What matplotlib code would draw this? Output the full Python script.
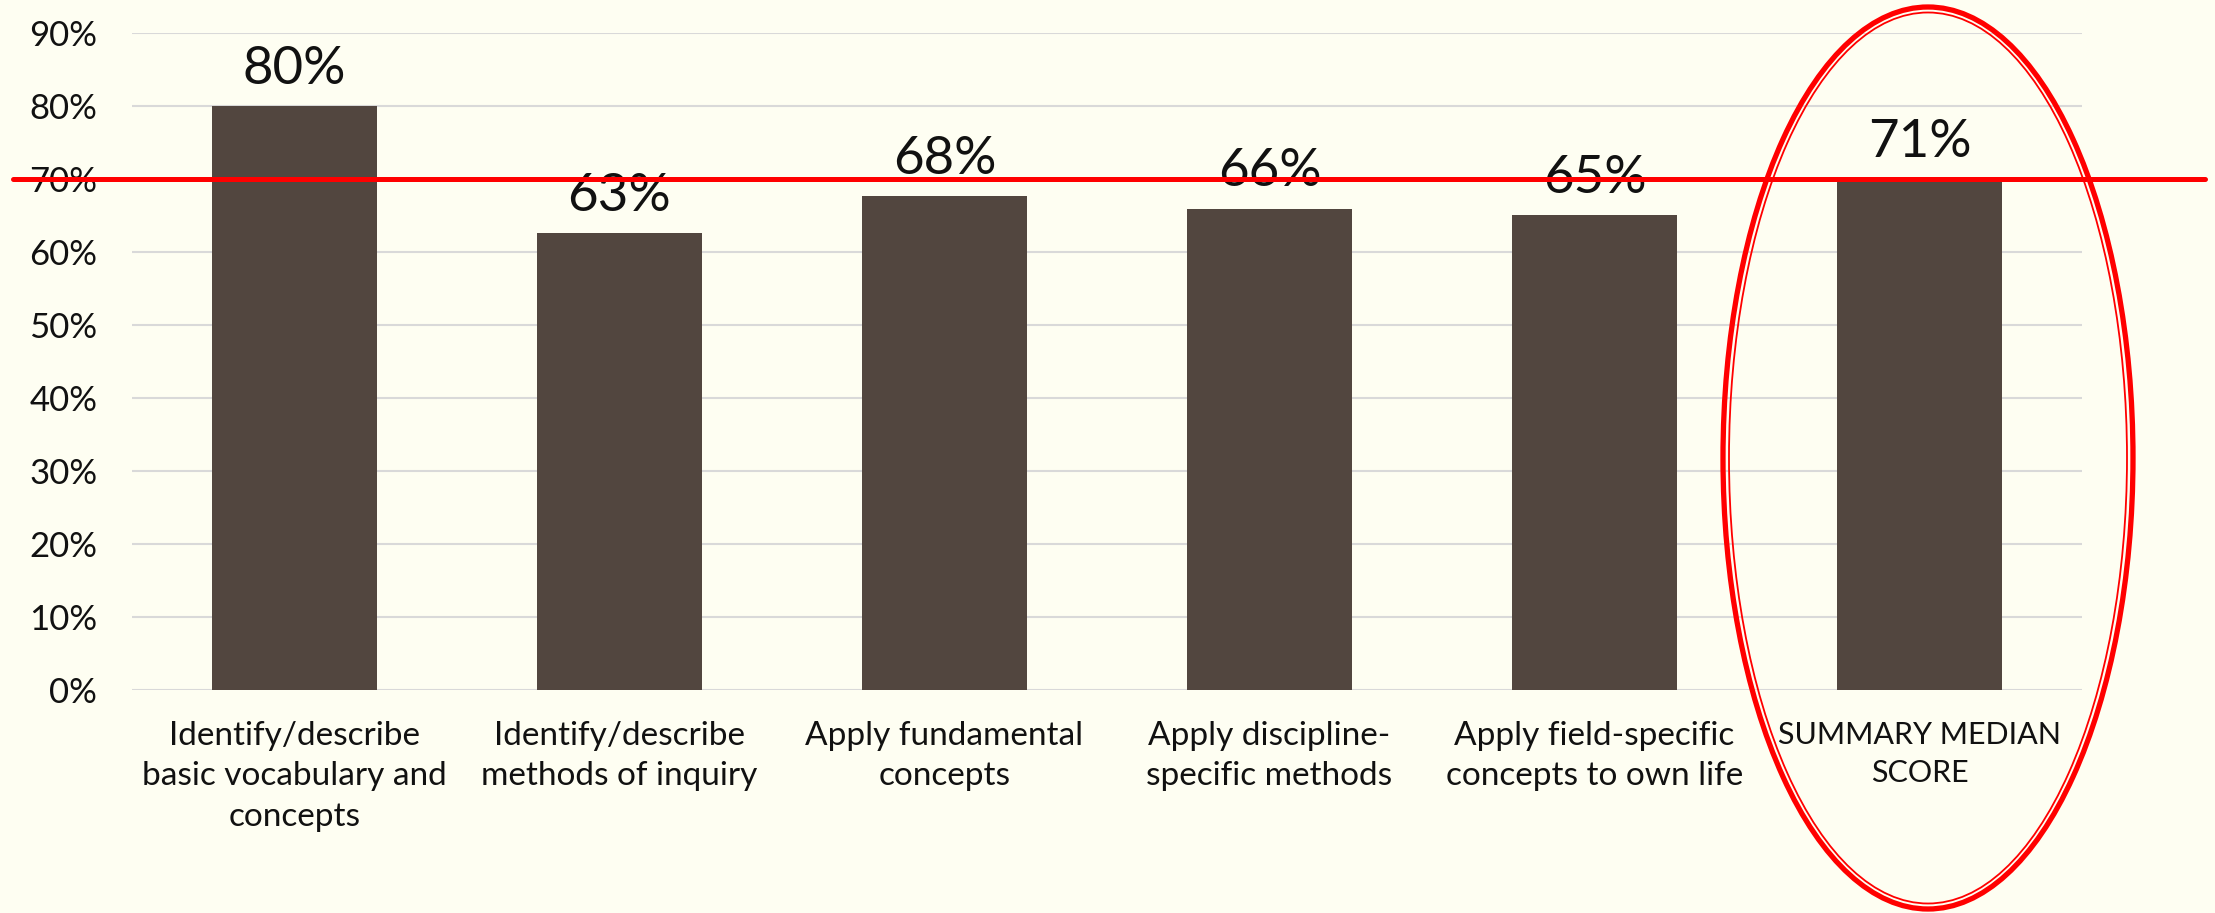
import matplotlib.pyplot as plt
from matplotlib.patches import Ellipse
from matplotlib.lines import Line2D
import matplotlib.transforms as mtransforms

# data
categories = ['Identify/describe\nbasic vocabulary and\nconcepts',
              'Identify/describe\nmethods of inquiry',
              'Apply fundamental\nconcepts',
              'Apply discipline-\nspecific methods',
              'Apply field-specific\nconcepts to own life',
              'SUMMARY MEDIAN\nSCORE']
scores = [0.80, 0.626, 0.677, 0.660, 0.651, 0.700]
score_labels = ['80%', '63%', '68%', '66%', '65%', '71%']
yticks = [0.0, 0.1, 0.2, 0.3, 0.4, 0.5, 0.6, 0.7, 0.8, 0.9]
target = 0.70

bg = '#FEFEF2'
bar_color = '#52463F'
plt.rcParams['font.family'] = ['Lato', 'DejaVu Sans']

W, H = 2215, 913
fig = plt.figure(figsize=(W / 100, H / 100), dpi=100, facecolor=bg)
ax = fig.add_axes([132 / W, 1 - 690 / H, 1950 / W, 656.5 / H], facecolor=bg)

x = list(range(len(categories)))
ax.bar(x, scores, width=0.505, color=bar_color, zorder=3)

for xi, v, lab in zip(x, scores, score_labels):
    ax.annotate(lab, (xi, v), xytext=(0, 16), textcoords='offset points',
                ha='center', va='baseline', fontsize=38, color='#111111', zorder=5)

ax.set_xlim(-0.5, 5.5)
ax.set_ylim(0, 0.9)
ax.set_yticks(yticks)
ax.set_yticklabels(['%d%%' % round(t * 100) for t in yticks], fontsize=25, color='#111111')
ax.set_xticks(x)
ax.set_xticklabels(categories, fontsize=24, color='#111111', linespacing=1.45)
ax.get_xticklabels()[-1].set_fontsize(22)  # upper-case label runs a bit smaller
ax.tick_params(axis='both', length=0)
ax.tick_params(axis='y', pad=25)
ax.tick_params(axis='x', pad=22)
ax.grid(axis='y', color='#D9D9D9', linewidth=1.5, zorder=0)
for s in ax.spines.values():
    s.set_visible(False)

# red target line running across the whole figure
trans = mtransforms.blended_transform_factory(fig.transFigure, ax.transData)
ax.add_line(Line2D([13 / W, 2205 / W], [target, target], transform=trans,
                   color='#FF0000', linewidth=3.6, solid_capstyle='round',
                   clip_on=False, zorder=6))

# double ellipse round the summary bar
cx, cy = 1928 / W, 1 - 458 / H
fig.patches.append(Ellipse((cx, cy), 410 / W, 902 / H, transform=fig.transFigure,
                           fill=False, edgecolor='#FF0000', linewidth=3.8, zorder=7))
fig.patches.append(Ellipse((cx, cy), 398 / W, 891 / H, transform=fig.transFigure,
                           fill=False, edgecolor='#FF0000', linewidth=1.3, zorder=7))

fig.savefig('out.png', dpi=100, facecolor=bg)
